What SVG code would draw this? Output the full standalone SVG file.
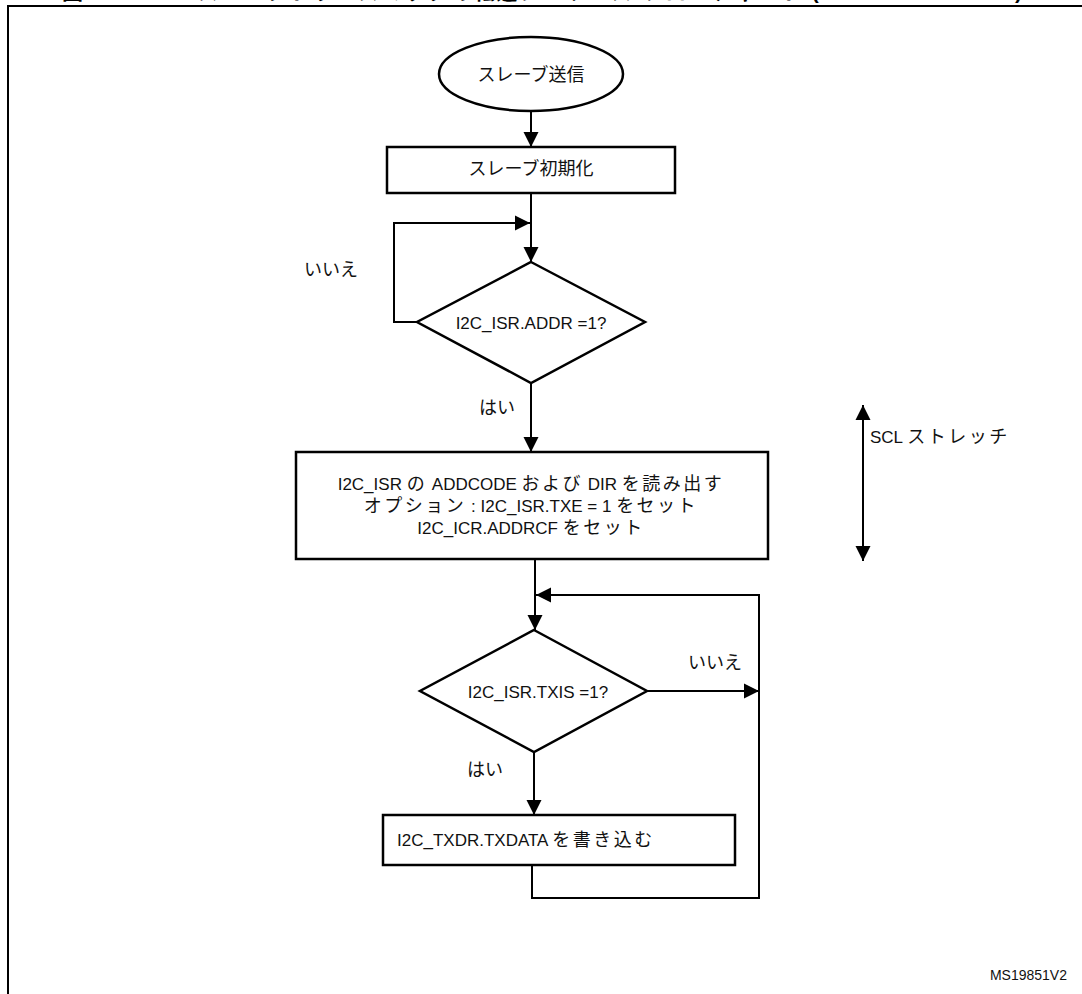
<svg xmlns="http://www.w3.org/2000/svg" width="1082" height="994" viewBox="0 0 1082 994">
  <defs>
    <marker id="arrow" markerUnits="userSpaceOnUse" markerWidth="16" markerHeight="16" viewBox="0 0 16 16" refX="15" refY="8" orient="auto">
      <path d="M0,0.5 L15,8 L0,15.5 Z" fill="#000"/>
    </marker>
    <marker id="arrowStart" markerUnits="userSpaceOnUse" markerWidth="16" markerHeight="16" viewBox="0 0 16 16" refX="1" refY="8" orient="auto">
      <path d="M16,0.5 L1,8 L16,15.5 Z" fill="#000"/>
    </marker>
  </defs>
  <style>
    .shape { fill: #fff; stroke: #000; stroke-width: 2.5; }
    .wire { fill: none; stroke: #000; stroke-width: 2; }
    .lbl { font-family: "Liberation Sans", "Noto Sans CJK JP", sans-serif; font-size: 17px; fill: #111; }
    .jp { font-size: 18px; }
    .wide { letter-spacing: 2.5px; }
    .mid { text-anchor: middle; }
    .title { font-family: "Liberation Sans", "Noto Sans CJK JP", sans-serif; font-size: 21px; font-weight: bold; fill: #000; }
  </style>

  <rect width="1082" height="994" fill="#fff"/>

  <!-- figure caption, running off the top edge -->
  <text class="title" x="62" y="-1.5" textLength="960" lengthAdjust="spacing">図 338. I2C スレーブトランスミッタの転送シーケンス フローチャート (NOSTRETCH = 0)</text>

  <!-- figure frame (open at right and bottom) -->
  <path class="wire" d="M8,994 V6 H1082" stroke-width="2.5"/>

  <!-- connectors -->
  <g id="connectors">
    <line class="wire" x1="531" y1="111" x2="531" y2="147" marker-end="url(#arrow)"/>
    <line class="wire" x1="531" y1="193" x2="531" y2="262" marker-end="url(#arrow)"/>
    <polyline class="wire" points="417,322 394,322 394,223 530,223" marker-end="url(#arrow)"/>
    <line class="wire" x1="531" y1="383" x2="531" y2="452" marker-end="url(#arrow)"/>
    <line class="wire" x1="535" y1="559" x2="535" y2="630" marker-end="url(#arrow)"/>
    <line class="wire" x1="647" y1="691" x2="759" y2="691" marker-end="url(#arrow)"/>
    <polyline class="wire" points="532,865 532,898 759,898 759,595 536,595" marker-end="url(#arrow)"/>
    <line class="wire" x1="534" y1="752" x2="534" y2="815" marker-end="url(#arrow)"/>
    <line class="wire" x1="863" y1="405" x2="863" y2="561" marker-start="url(#arrowStart)" marker-end="url(#arrow)"/>
  </g>

  <!-- start -->
  <g id="start">
    <ellipse class="shape" cx="531" cy="74" rx="92" ry="37"/>
    <text class="lbl jp mid" x="531" y="81">スレーブ送信</text>
  </g>

  <!-- init -->
  <g id="init">
    <rect class="shape" x="387" y="147" width="288" height="46"/>
    <text class="lbl jp mid" x="531" y="175">スレーブ初期化</text>
  </g>

  <!-- address match decision -->
  <g id="check-addr">
    <polygon class="shape" points="531,262 645,322 531,383 417,322"/>
    <text class="lbl mid" x="531" y="329">I2C_ISR.ADDR =1?</text>
    <text class="lbl jp mid" x="331" y="276">いいえ</text>
    <text class="lbl jp mid" x="497" y="414">はい</text>
  </g>

  <!-- read address / direction -->
  <g id="read-addr">
    <rect class="shape" x="296" y="452" width="472" height="107"/>
    <text class="lbl mid" x="531" y="490">I2C_ISR <tspan class="jp wide">の</tspan> ADDCODE <tspan class="jp wide">および</tspan> DIR <tspan class="jp wide">を読み出す</tspan></text>
    <text class="lbl mid" x="531" y="512"><tspan class="jp wide">オプション</tspan> : I2C_ISR.TXE = 1 <tspan class="jp wide">をセット</tspan></text>
    <text class="lbl mid" x="531" y="534">I2C_ICR.ADDRCF <tspan class="jp wide">をセット</tspan></text>
  </g>

  <!-- SCL stretch span -->
  <g id="scl-stretch">
    <text class="lbl" x="870" y="443">SCL <tspan class="jp wide">ストレッチ</tspan></text>
  </g>

  <!-- transmit buffer decision -->
  <g id="check-txis">
    <polygon class="shape" points="534,630 647,691 534,752 420,691"/>
    <text class="lbl mid" x="538" y="698">I2C_ISR.TXIS =1?</text>
    <text class="lbl jp mid" x="715" y="669">いいえ</text>
    <text class="lbl jp mid" x="485" y="776">はい</text>
  </g>

  <!-- write data -->
  <g id="write-data">
    <rect class="shape" x="383" y="815" width="352" height="50"/>
    <text class="lbl" x="397" y="846">I2C_TXDR.TXDATA <tspan class="jp wide">を書き込む</tspan></text>
  </g>

  <text class="lbl" x="1067" y="980" text-anchor="end" style="font-size:14px">MS19851V2</text>
</svg>
